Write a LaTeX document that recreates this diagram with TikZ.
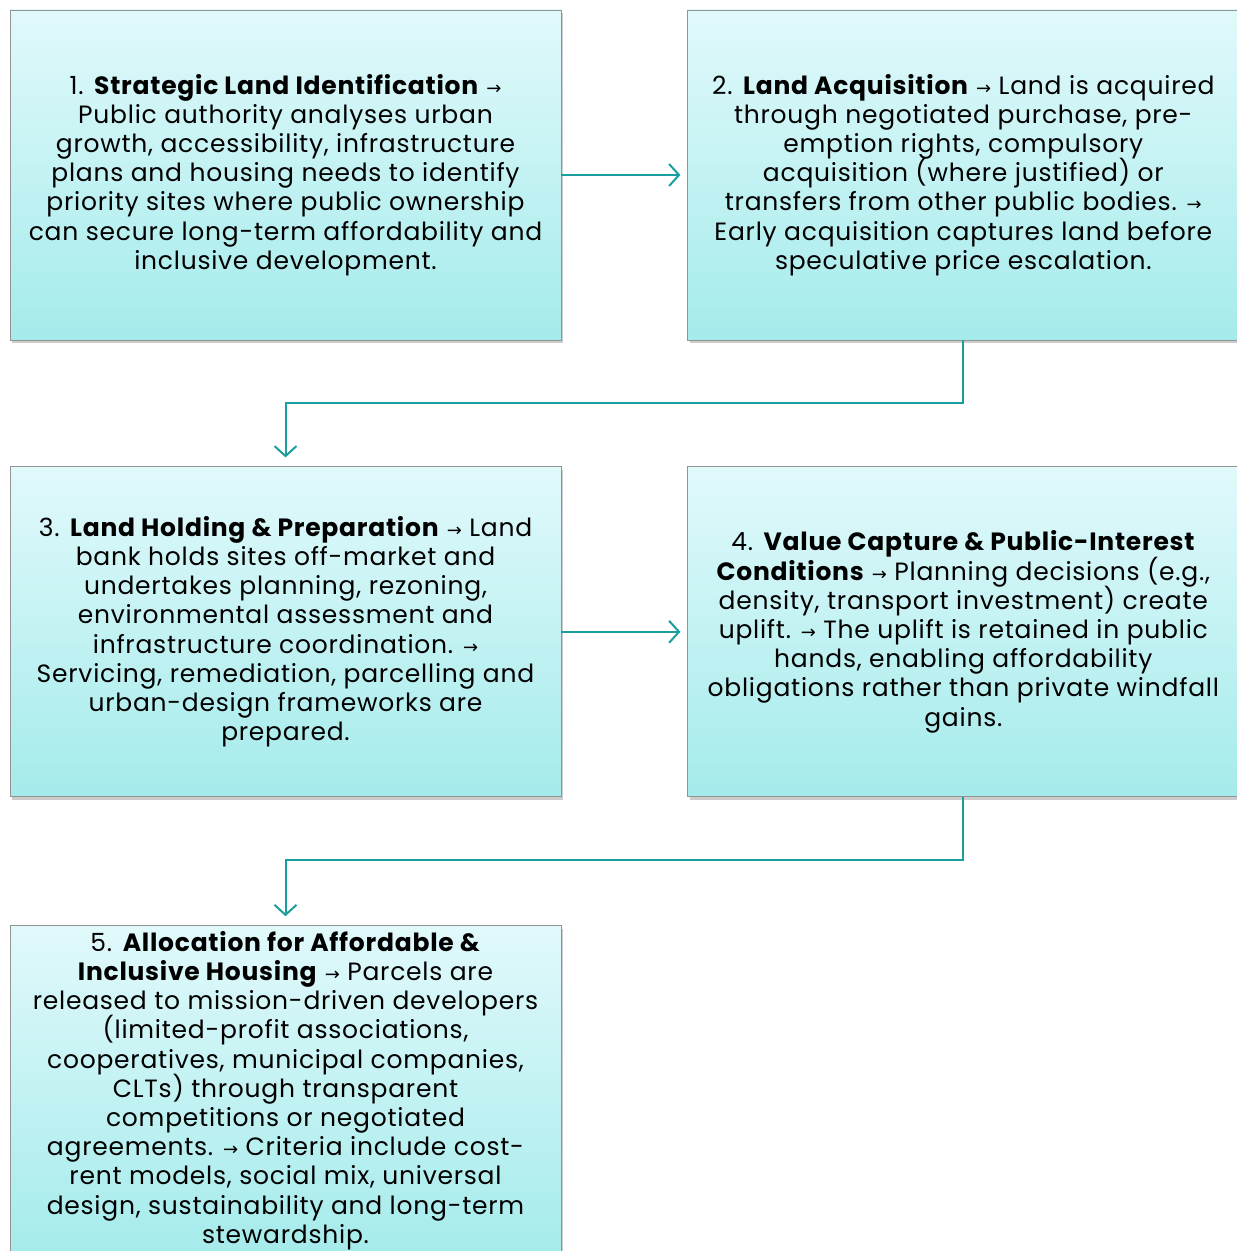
\documentclass[tikz,border=0pt]{standalone}
\usepackage{fontspec}
\setmainfont{Poppins}[LetterSpace=3]
\newfontfamily\arrowfont{DejaVu Sans}
\usetikzlibrary{arrows.meta,positioning,shadows}
\definecolor{boxtop}{HTML}{E1F9FB}
\definecolor{boxbottom}{HTML}{A5EBEB}
\definecolor{flowline}{HTML}{1A9E9E}
\newcommand{\nxt}{{\arrowfont\fontsize{9pt}{9pt}\selectfont →}}
\newcommand{\stagefont}{\fontsize{12.5pt}{14.6pt}\selectfont\lineskiplimit=-20pt\relax}

\begin{document}
\begin{tikzpicture}[node distance=63pt and 63pt,>={Straight Barb[length=5pt,width=11pt]}]
		\tikzstyle{stage}=[rectangle, draw=gray!85, top color=boxtop, bottom color=boxbottom,
			minimum width=275.5pt, minimum height=165pt, inner sep=2pt, align=center,
			font=\stagefont,
			drop shadow={shadow xshift=1.2pt, shadow yshift=-1.5pt, opacity=0.4}]
		\tikzstyle{flow}=[->, draw=flowline, line width=1pt]
		\useasboundingbox (0,0) rectangle (618pt,-625.5pt);

		\node [stage] (ident) at (142.75pt,-87.5pt) {1. \textbf{Strategic Land Identification} \nxt\\
			Public authority analyses urban\\
			growth, accessibility, infrastructure\\
			plans and housing needs to identify\\
			priority sites where public ownership\\
			can secure long-term affordability and\\
			inclusive development.};
		\node [stage] (acq) [right=of ident] {2. \textbf{Land Acquisition} \nxt{} Land is acquired\\
			through negotiated purchase, pre-\\
			emption rights, compulsory\\
			acquisition (where justified) or\\
			transfers from other public bodies. \nxt\\
			Early acquisition captures land before\\
			speculative price escalation.};
		\node [stage] (hold) [below=of ident] {3. \textbf{Land Holding \& Preparation} \nxt{} Land\\
			bank holds sites off-market and\\
			undertakes planning, rezoning,\\
			environmental assessment and\\
			infrastructure coordination. \nxt\\
			Servicing, remediation, parcelling and\\
			urban-design frameworks are\\
			prepared.};
		\node [stage] (capture) [right=of hold] {4. \textbf{Value Capture \& Public-Interest}\\
			\textbf{Conditions} \nxt{} Planning decisions (e.g.,\\
			density, transport investment) create\\
			uplift. \nxt{} The uplift is retained in public\\
			hands, enabling affordability\\
			obligations rather than private windfall\\
			gains.};
		\node [stage] (alloc) [below=64pt of hold] {5. \textbf{Allocation for Affordable \&}\\
			\textbf{Inclusive Housing} \nxt{} Parcels are\\
			released to mission-driven developers\\
			(limited-profit associations,\\
			cooperatives, municipal companies,\\
			CLTs) through transparent\\
			competitions or negotiated\\
			agreements. \nxt{} Criteria include cost-\\
			rent models, social mix, universal\\
			design, sustainability and long-term\\
			stewardship.};

		\draw [flow] (ident.east) -- ([xshift=-3.5pt]acq.west);
		\draw [flow] (acq.south) |- ++(0,-31.5pt) -| ([yshift=4.5pt]hold.north);
		\draw [flow] (hold.east) -- ([xshift=-3.5pt]capture.west);
		\draw [flow] (capture.south) |- ++(0,-31.5pt) -| ([yshift=4.5pt]alloc.north);
	\end{tikzpicture}
\end{document}
